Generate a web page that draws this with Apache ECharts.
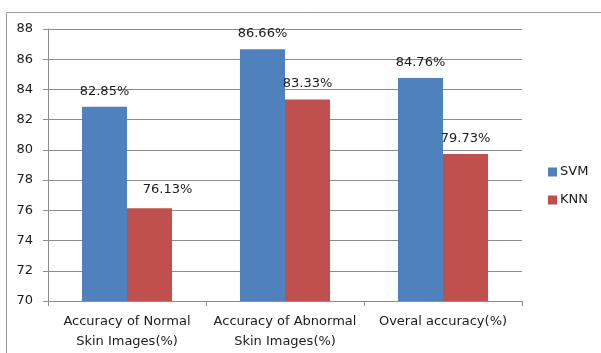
<!DOCTYPE html>
<html>
<head>
<meta charset="utf-8">
<script src="https://cdn.jsdelivr.net/npm/echarts@6/dist/echarts.min.js"></script>
<style>
  html, body { margin: 0; padding: 0; background: #fff; }
  #chart { width: 601px; height: 353px; }
</style>
</head>
<body>
<div id="chart"></div>
<script>
// Classifier accuracy comparison: SVM vs KNN
const categories = [
  'Accuracy of Normal\nSkin Images(%)',
  'Accuracy of Abnormal\nSkin Images(%)',
  'Overal accuracy(%)'
];
const svmValues = [82.85, 86.66, 84.76];
const knnValues = [76.13, 83.33, 79.73];
const yTicks = [70, 72, 74, 76, 78, 80, 82, 84, 86, 88];

const FONT = 'DejaVu Sans';
const gridColor = '#8c8c8c';

const chart = echarts.init(document.getElementById('chart'), null, { renderer: 'canvas' });

function labelled(values, shifts) {
  return values.map((v, i) => {
    const item = { value: v };
    if (shifts && shifts[i]) item.label = { offset: shifts[i] };
    return item;
  });
}

const barLabel = {
  show: true,
  position: 'top',
  distance: 9,
  fontFamily: FONT,
  fontSize: 13,
  color: '#1a1a1a',
  formatter: p => p.value.toFixed(2) + '%'
};

chart.setOption({
  animation: false,
  backgroundColor: '#fff',
  graphic: [{
    type: 'rect',
    shape: { x: 6.5, y: 12.5, width: 640, height: 400 },
    style: { fill: 'none', stroke: '#9a9a9a', lineWidth: 1 },
    silent: true
  }],
  grid: { left: 48, right: 79, top: 29, bottom: 52, containLabel: false },
  legend: {
    orient: 'vertical',
    left: 548,
    top: 165,
    padding: 0,
    itemWidth: 9,
    itemHeight: 9,
    itemGap: 14,
    icon: 'rect',
    textStyle: { fontFamily: FONT, fontSize: 13, color: '#1a1a1a', lineHeight: 14, padding: [0, 0, 0, -2] },
    data: ['SVM', 'KNN']
  },
  xAxis: {
    type: 'category',
    data: categories,
    axisLine: { show: true, lineStyle: { color: gridColor, width: 1 } },
    axisTick: { show: true, length: 5, alignWithLabel: false, lineStyle: { color: gridColor } },
    axisLabel: {
      fontFamily: FONT,
      fontSize: 13,
      color: '#1a1a1a',
      lineHeight: 20,
      margin: 11,
      interval: 0
    },
    splitLine: { show: false }
  },
  yAxis: {
    type: 'value',
    min: yTicks[0],
    max: yTicks[yTicks.length - 1],
    interval: 2,
    axisLine: { show: true, lineStyle: { color: gridColor, width: 1 } },
    axisTick: { show: true, length: 5, lineStyle: { color: gridColor } },
    axisLabel: {
      fontFamily: FONT,
      fontSize: 13,
      color: '#1a1a1a',
      margin: 15
    },
    splitLine: { show: true, lineStyle: { color: gridColor, width: 1 } }
  },
  series: [
    {
      name: 'SVM',
      type: 'bar',
      data: labelled(svmValues),
      barGap: '0%',
      barCategoryGap: '43%',
      itemStyle: { color: '#4f81bd' },
      label: barLabel
    },
    {
      name: 'KNN',
      type: 'bar',
      data: labelled(knnValues, [[18, -3], null, null]),
      barGap: '0%',
      barCategoryGap: '43%',
      itemStyle: { color: '#c0504d' },
      label: barLabel
    }
  ]
});
</script>
</body>
</html>
